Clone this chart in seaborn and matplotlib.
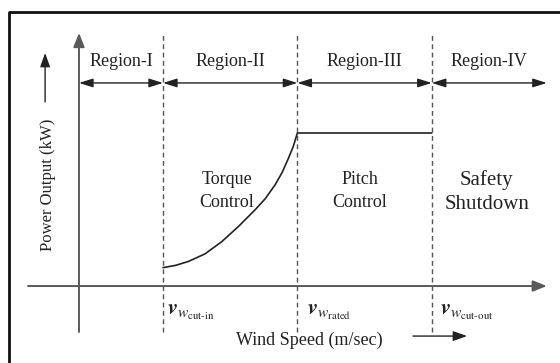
import matplotlib.pyplot as plt
import seaborn as sns

# region boundaries on the wind speed axis (schematic units)
cut_in = 3.0
rated = 7.8
cut_out = 12.6
v_end = 16.71

# power curve (fraction of rated power)
wind = [3.0, 3.45, 3.9, 4.5, 5.1, 5.7, 6.3, 6.65, 7.0, 7.25, 7.47, 7.65, 7.8, 12.6]
power = [0.12, 0.135, 0.16, 0.21, 0.29, 0.39, 0.50, 0.57, 0.66, 0.74, 0.83, 0.91, 1.0, 1.0]

regions = ['Region-I', 'Region-II', 'Region-III', 'Region-IV']
bounds = [0.0, cut_in, rated, cut_out, v_end]
modes = ['Torque\nControl', 'Pitch\nControl', 'Safety\nShutdown']
speed_labels = [r'$\mathbfit{v}_{w_{\text{cut-in}}}$',
                r'$\mathbfit{v}_{w_{\text{rated}}}$',
                r'$\mathbfit{v}_{w_{\text{cut-out}}}$']

sns.set_theme(style='white')
plt.rcParams['font.family'] = ['Liberation Serif', 'DejaVu Serif']
plt.rcParams['mathtext.fontset'] = 'stix'

fig = plt.figure(figsize=(5.6, 3.63), dpi=100)
ax = fig.add_axes([0, 0, 1, 1])
ax.set_xlim(-2.821, 17.18)
ax.set_ylim(-0.503, 1.869)
ax.axis('off')

txt = '#222222'
axis_col = '#5a5a5a'

# outer frame (cropped box)
ax.plot([0.016, 0.016, 1.0], [0.0, 0.967, 0.967], transform=ax.transAxes,
        color='#111111', lw=2.0, clip_on=False)

# coordinate axes with arrow heads
ax.annotate('', xy=(v_end, 0), xytext=(-1.82, 0),
            arrowprops=dict(arrowstyle='-|>,head_length=0.7,head_width=0.28',
                            color=axis_col, lw=1.4, shrinkA=0, shrinkB=0,
                            mutation_scale=12))
ax.annotate('', xy=(0, 1.654), xytext=(0, -0.30),
            arrowprops=dict(arrowstyle='-|>,head_length=0.7,head_width=0.28',
                            color=axis_col, lw=1.4, shrinkA=0, shrinkB=0,
                            mutation_scale=12))

# region boundaries
for b in [cut_in, rated, cut_out]:
    ax.plot([b, b], [-0.30, 1.66], color='#555555', lw=1.0,
            linestyle=(0, (3.5, 2.5)))

# region extents
for i, name in enumerate(regions):
    ax.annotate('', xy=(bounds[i + 1], 1.327), xytext=(bounds[i], 1.327),
                arrowprops=dict(arrowstyle='<|-|>,head_length=0.7,head_width=0.22',
                                color='#222222', lw=1.0, shrinkA=0, shrinkB=0,
                                mutation_scale=12))
    ax.text((bounds[i] + bounds[i + 1]) / 2, 1.47, name, ha='center',
            va='center', fontsize=13, color=txt)

# power curve
sns.lineplot(x=wind, y=power, sort=False, estimator=None, color='#222222',
             lw=1.2, ax=ax)

# operating modes
ax.text(5.29, 0.62, modes[0], ha='center', va='center', fontsize=13,
        color=txt, linespacing=1.5)
ax.text(10.04, 0.62, modes[1], ha='center', va='center', fontsize=13,
        color=txt, linespacing=1.5)
ax.text(14.57, 0.614, modes[2], ha='center', va='center', fontsize=15,
        color=txt, linespacing=1.4)

# wind speed markers
for xpos, lab in zip([3.14, 8.14, 12.89], speed_labels):
    ax.text(xpos, -0.17, lab, ha='left', va='center', fontsize=16, color=txt)

# axis titles with arrows
ax.text(-1.107, 0.66, 'Power Output (kW)', rotation=90, ha='center',
        va='center', fontsize=12, color=txt)
ax.annotate('', xy=(-1.21, 1.523), xytext=(-1.21, 1.203),
            arrowprops=dict(arrowstyle='-|>,head_length=0.7,head_width=0.25',
                            color='#222222', lw=1.0, shrinkA=0, shrinkB=0,
                            mutation_scale=12))
ax.text(8.21, -0.353, 'Wind Speed (m/sec)', ha='center', va='center',
        fontsize=13, color=txt)
ax.annotate('', xy=(13.86, -0.327), xytext=(11.93, -0.327),
            arrowprops=dict(arrowstyle='-|>,head_length=0.7,head_width=0.25',
                            color='#222222', lw=1.0, shrinkA=0, shrinkB=0,
                            mutation_scale=12))

fig.savefig('out.png', dpi=100)
